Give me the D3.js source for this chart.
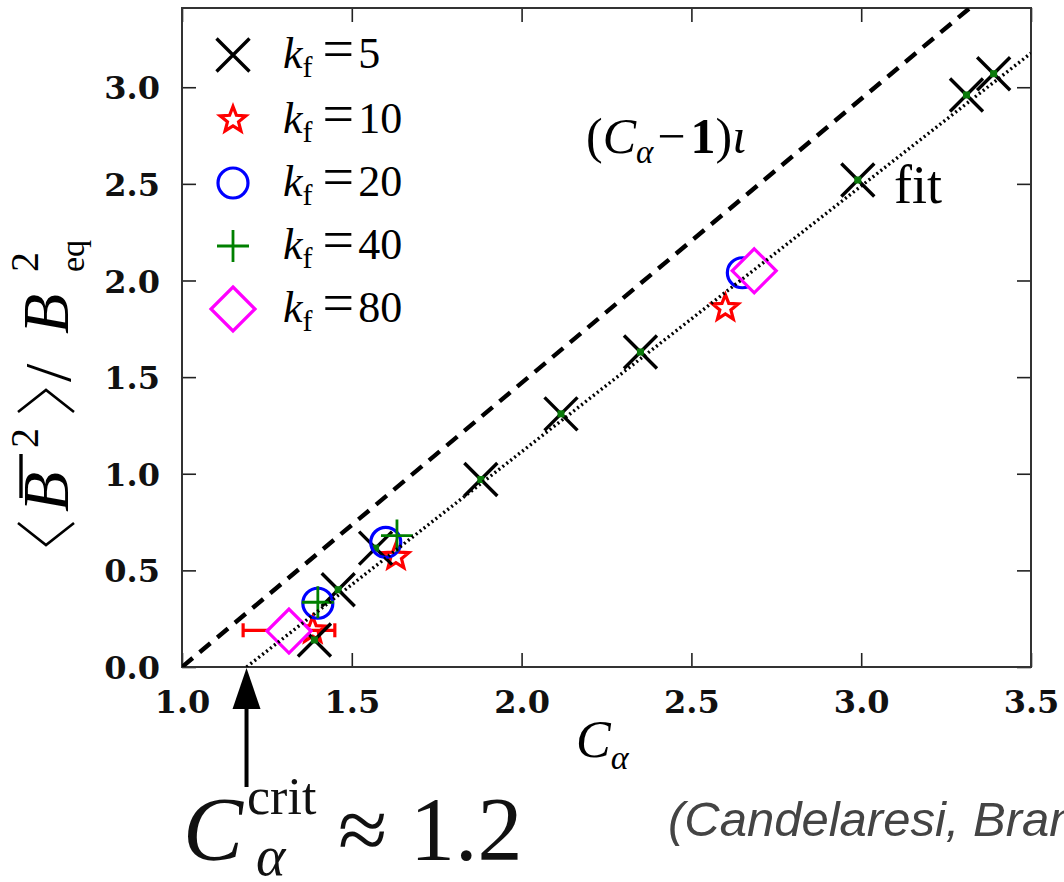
<!DOCTYPE html>
<html>
<head>
<meta charset="utf-8">
<script src="https://cdn.jsdelivr.net/npm/d3@7/dist/d3.min.js"></script>
<style>
  html, body { margin: 0; padding: 0; background: #fff; overflow: hidden; }
  svg { display: block; }
  .serif { font-family: "Liberation Serif", "DejaVu Serif", serif; }
</style>
</head>
<body>
<svg id="chart" width="1064" height="882"></svg>
<script>
// Saturated magnetic energy vs. dynamo number C_alpha, for several forcing wavenumbers k_f
const xTicks = [1.0, 1.5, 2.0, 2.5, 3.0, 3.5];
const yTicks = [0.0, 0.5, 1.0, 1.5, 2.0, 2.5, 3.0];

const kf5_C  = [1.39, 1.46, 1.57, 1.88, 2.116, 2.35, 2.99, 3.31, 3.39];
const kf5_B  = [0.14, 0.40, 0.615, 0.97, 1.31, 1.63, 2.52, 2.96, 3.07];
const kf10_C = [1.385, 1.63, 2.60];
const kf10_B = [0.19, 0.57, 1.857];
const kf10_Clo = [1.18, null, null];
const kf10_Chi = [1.45, null, null];
const kf20_C = [1.40, 1.60, 2.65];
const kf20_B = [0.33, 0.645, 2.04];
const kf40_C = [1.40, 1.633];
const kf40_B = [0.335, 0.68];
const kf80_C = [1.315, 2.685];
const kf80_B = [0.186, 2.05];

const seriesNames = ["5", "10", "20", "40", "80"];
const iota = 1.47;          // slope of the (C_alpha - 1) iota line
const cCrit = 1.19;         // onset of the fit
const fitSlope = 1.375;     // slope of the linear fit

const W = 1064, H = 882;
const margin = { left: 182, right: 33, top: 8, bottom: 215 };
const svg = d3.select("#chart");

const x = d3.scaleLinear().domain([1.0, 3.5]).range([margin.left, W - margin.right]);
const y = d3.scaleLinear().domain([0, 3.41]).range([H - margin.bottom, margin.top]);
const x0 = x.range()[0], x1 = x.range()[1], y0 = y.range()[0], y1 = y.range()[1];

svg.append("defs").append("clipPath").attr("id", "plotclip")
  .append("rect").attr("x", x0).attr("y", y1).attr("width", x1 - x0).attr("height", y0 - y1);

// ---- axes with inward ticks on all four sides
const tickLen = 14;
const fmt = d3.format(".1f");
const axB = svg.append("g").attr("transform", `translate(0,${y0})`)
  .call(d3.axisBottom(x).tickValues(xTicks).tickSizeInner(-tickLen).tickSizeOuter(0).tickPadding(tickLen + 9).tickFormat(fmt));
const axT = svg.append("g").attr("transform", `translate(0,${y1})`)
  .call(d3.axisTop(x).tickValues(xTicks).tickSizeInner(-tickLen).tickSizeOuter(0).tickFormat(""));
const axL = svg.append("g").attr("transform", `translate(${x0},0)`)
  .call(d3.axisLeft(y).tickValues(yTicks).tickSizeInner(-tickLen).tickSizeOuter(0).tickPadding(tickLen + 8).tickFormat(fmt));
const axR = svg.append("g").attr("transform", `translate(${x1},0)`)
  .call(d3.axisRight(y).tickValues(yTicks).tickSizeInner(-tickLen).tickSizeOuter(0).tickFormat(""));
[axB, axT, axL, axR].forEach(g => {
  g.select(".domain").remove();
  g.selectAll(".tick line").attr("stroke", "#222").attr("stroke-width", 1.6);
  g.selectAll(".tick text").attr("fill", "#111")
    .style("font-family", '"DejaVu Serif", serif').style("font-weight", "bold").style("font-size", "32px");
});
axB.selectAll(".tick text").attr("dy", "0.71em");
axL.selectAll(".tick text").attr("dy", "0.36em");
svg.append("rect").attr("x", x0).attr("y", y1).attr("width", x1 - x0).attr("height", y0 - y1)
  .attr("fill", "none").attr("stroke", "#333").attr("stroke-width", 2);

// ---- marker shapes
function pathX(s) { return `M${-s},${-s}L${s},${s}M${-s},${s}L${s},${-s}`; }
function pathPlus(s) { return `M${-s},0L${s},0M0,${-s}L0,${s}`; }
function pathDiamond(s) { return `M0,${-s}L${s},0L0,${s}L${-s},0Z`; }
function pathStar(R, r) {
  let p = "";
  for (let i = 0; i < 10; i++) {
    const a = -Math.PI / 2 + i * Math.PI / 5, rr = i % 2 ? r : R;
    p += (i ? "L" : "M") + (rr * Math.cos(a)).toFixed(2) + "," + (rr * Math.sin(a)).toFixed(2);
  }
  return p + "Z";
}
const styles = [
  { draw: g => { g.append("path").attr("d", pathX(16.5)).attr("stroke", "#000").attr("stroke-width", 3.4).attr("fill", "none"); } },
  { draw: g => { g.append("path").attr("d", pathStar(13.5, 5.8)).attr("stroke", "#ff0000").attr("stroke-width", 3.2).attr("fill", "none"); } },
  { draw: g => { g.append("circle").attr("r", 15).attr("stroke", "#0000ff").attr("stroke-width", 3.2).attr("fill", "none"); } },
  { draw: g => { g.append("path").attr("d", pathPlus(16)).attr("stroke", "#008000").attr("stroke-width", 2.8).attr("fill", "none"); } },
  { draw: (g, legend) => { g.append("path").attr("d", pathDiamond(22)).attr("stroke", "#ff00ff").attr("stroke-width", 3.2).attr("fill", legend ? "none" : "#fff"); } }
];

const plot = svg.append("g").attr("clip-path", "url(#plotclip)");

// ---- horizontal error bar on the k_f=10 point near onset
const errG = plot.append("g").attr("stroke", "#ff0000").attr("stroke-width", 3.2);
kf10_C.forEach((c, i) => {
  if (kf10_Clo[i] == null) return;
  const yy = y(kf10_B[i]);
  errG.append("line").attr("x1", x(kf10_Clo[i])).attr("x2", x(kf10_Chi[i])).attr("y1", yy).attr("y2", yy);
  [kf10_Clo[i], kf10_Chi[i]].forEach(v =>
    errG.append("line").attr("x1", x(v)).attr("x2", x(v)).attr("y1", yy - 7).attr("y2", yy + 7));
});

function drawSeries(cs, bs, idx) {
  cs.forEach((c, i) => {
    const g = plot.append("g").attr("transform", `translate(${x(c)},${y(bs[i])})`);
    styles[idx].draw(g, false);
  });
}
drawSeries(kf10_C, kf10_B, 1);
drawSeries(kf5_C, kf5_B, 0);
// green cores at the k_f=5 points
kf5_C.forEach((c, i) => plot.append("rect").attr("x", x(c) - 3.5).attr("y", y(kf5_B[i]) - 3.5)
  .attr("width", 7).attr("height", 7).attr("fill", "#0a7a0a"));
drawSeries(kf20_C, kf20_B, 2);
drawSeries(kf40_C, kf40_B, 3);
drawSeries(kf80_C, kf80_B, 4);

// ---- reference lines
const line = d3.line().x(d => x(d[0])).y(d => y(d[1]));
const cTop = 1 + y.domain()[1] / iota;
plot.append("path").attr("d", line([[1.0, 0], [cTop + 0.05, (cTop + 0.05 - 1) * iota]]))
  .attr("stroke", "#000").attr("stroke-width", 4.4).attr("fill", "none").attr("stroke-dasharray", "14,9");
plot.append("path").attr("d", line([[cCrit, 0], [3.5, (3.5 - cCrit) * fitSlope]]))
  .attr("stroke", "#000").attr("stroke-width", 3.4).attr("fill", "none").attr("stroke-dasharray", "2,3");

// ---- legend
const legRows = [55, 120, 183, 246, 309];
seriesNames.forEach((n, i) => {
  const g = svg.append("g").attr("transform", `translate(233,${legRows[i]})`);
  styles[i].draw(g, true);
  const t = svg.append("text").attr("class", "serif").attr("x", 283).attr("y", legRows[i] + 13)
    .style("font-size", "44px").attr("fill", "#000");
  t.append("tspan").style("font-style", "italic").text("k");
  t.append("tspan").attr("dy", 9).style("font-size", "30px").text("f");
  t.append("tspan").attr("dy", -9).attr("dx", 10).style("font-size", "56px").text("=");
  t.append("tspan").attr("dx", 4).text(n);
});

// ---- annotations
const lab1 = svg.append("text").attr("class", "serif").attr("x", 586).attr("y", 153)
  .style("font-size", "50px").attr("fill", "#000");
lab1.append("tspan").text("(");
lab1.append("tspan").style("font-style", "italic").text("C");
lab1.append("tspan").attr("dy", 10).style("font-size", "33px").style("font-style", "italic").text("α");
lab1.append("tspan").attr("dy", -10).attr("dx", 4).text("−");
lab1.append("tspan").attr("dx", 5).style("font-weight", "bold").text("1");
lab1.append("tspan").text(")");
lab1.append("tspan").style("font-style", "italic").text("ι");

svg.append("text").attr("class", "serif").attr("x", 894).attr("y", 203)
  .style("font-size", "54px").attr("fill", "#000").text("fit");

// x axis title
const xt = svg.append("text").attr("class", "serif").attr("x", 576).attr("y", 757)
  .style("font-size", "52px").attr("fill", "#000");
xt.append("tspan").style("font-style", "italic").text("C");
xt.append("tspan").attr("dy", 12).style("font-size", "34px").style("font-style", "italic").text("α");

// y axis title, rotated: local x runs upward along the axis, local y points right
const yg = svg.append("g").attr("class", "serif").attr("transform", "translate(68,548) rotate(-90)");
const ytxt = (lx, ly, size, txt, italic) => yg.append("text").attr("x", lx).attr("y", ly)
  .style("font-size", size + "px").style("font-style", italic ? "italic" : "normal").attr("fill", "#000").text(txt);
// angle brackets drawn as strokes
yg.append("path").attr("d", "M25,-50L3,-22L25,6").attr("fill", "none").attr("stroke", "#000").attr("stroke-width", 2.6);
ytxt(36, 0, 66, "B", true);
yg.append("line").attr("x1", 50).attr("x2", 94).attr("y1", -47).attr("y2", -47).attr("stroke", "#000").attr("stroke-width", 3.4);
ytxt(100, -30, 40, "2", false);
yg.append("path").attr("d", "M136,-50L158,-22L136,6").attr("fill", "none").attr("stroke", "#000").attr("stroke-width", 2.6);
ytxt(166, 2, 66, "/", false);
ytxt(214, 0, 66, "B", true);
ytxt(276, -30, 40, "2", false);
ytxt(276, 16, 34, "eq", false);

// onset arrow
const ax = x(cCrit);
svg.append("line").attr("x1", ax).attr("x2", ax).attr("y1", y0 + 40).attr("y2", y0 + 120)
  .attr("stroke", "#000").attr("stroke-width", 4);
svg.append("path").attr("d", `M${ax},${y0 + 1}L${ax + 14},${y0 + 42}L${ax - 14},${y0 + 42}Z`).attr("fill", "#000");

const ct = svg.append("text").attr("class", "serif").attr("x", 183).attr("y", 860)
  .style("font-size", "90px").attr("fill", "#111");
ct.append("tspan").style("font-style", "italic").text("C");
ct.append("tspan").attr("dx", 4).attr("dy", -46).style("font-size", "52px").text("crit");
ct.append("tspan").attr("x", 256).attr("dy", 61).style("font-size", "56px").style("font-style", "italic").text("α");
ct.append("tspan").attr("x", 338).attr("dy", -15).text("≈ 1.2");

svg.append("text").attr("x", 668).attr("y", 836)
  .style("font-family", '"Liberation Sans", Arial, sans-serif').style("font-style", "italic")
  .style("font-size", "49px").attr("fill", "#444").text("(Candelaresi, Brandenburg)");
</script>
</body>
</html>
